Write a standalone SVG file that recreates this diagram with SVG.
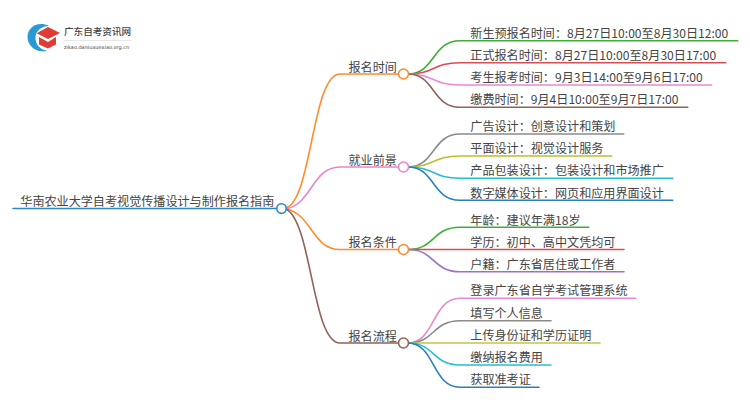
<svg xmlns="http://www.w3.org/2000/svg" width="750" height="410" viewBox="0 0 750 410">
<style>
text{font-family:"Noto Sans CJK SC","Noto Sans",sans-serif;font-size:12.100px;fill:#444}
.c path{fill:none;stroke-width:1.600;stroke-linecap:round}
circle{fill:#fff;stroke-width:1.600}
</style>
<rect width="750" height="410" fill="#fff"/>
<g id="logo">
<path d="M49 26C39 21 28.500 26 27.500 36C27 46 37 54 47 50.500C40 50 35 44 35.500 37C36 30.500 42 26 49 26Z" fill="#2a9ad6"/>
<path d="M36.700 33.300L48 27L60 33L48 39Z" fill="#e23b36"/>
<path d="M39 37L48 42L56 37V44.500L48 48.500L39 44.500Z" fill="#e23b36"/>
<text x="64" y="35" style="font-size:9.600px;font-weight:500">广东自考资讯网</text>
<rect x="63" y="40" width="68" height="0.700" fill="#ddd"/>
<text x="64" y="49" style="font-size:5px;font-family:'DejaVu Sans',sans-serif">zikao.daniuxuexiao.org.cn</text>
</g>
<g id="connectors" class="c">
<path d="M13 208.500H276" stroke="#2f86c5"/>
<path d="M286 208C312 200 312 74 340 74H398" stroke="#ff8c2a"/>
<path d="M286 209C312 204 312 167 340 167H398" stroke="#e884cf"/>
<path d="M286 209C312 214 312 249.500 340 249.500H398" stroke="#ff8c2a"/>
<path d="M286 209C312 222 312 343 340 343H398" stroke="#8f6357"/>
<path d="M408 74C435 74 432 40.700 460 40.700H737.700" stroke="#3cb034"/>
<path d="M408 74C435 74 432 62.700 460 62.700H725.700" stroke="#dd4c50"/>
<path d="M408 74C435 74 432 85 460 85H711.700" stroke="#e98ad0"/>
<path d="M408 74C435 74 432 107.300 460 107.300H687.700" stroke="#8f6357"/>
<path d="M408 167C435 167 432 134 460 134H623.700" stroke="#8a8a8a"/>
<path d="M408 167C435 167 432 156 460 156H611.700" stroke="#bdbe2e"/>
<path d="M408 167C435 167 432 178.300 460 178.300H672.700" stroke="#25bfd2"/>
<path d="M408 167C435 167 432 200.300 460 200.300H672.700" stroke="#2a7fbc"/>
<path d="M408 249.500C435 249.500 432 227.300 460 227.300H588.700" stroke="#3cb034"/>
<path d="M408 249.500H624" stroke="#dd4c50"/>
<path d="M408 249.500C435 249.500 432 271.700 460 271.700H624" stroke="#9a72c2"/>
<path d="M408 343C435 343 432 298.300 460 298.300H635.700" stroke="#e98ad0"/>
<path d="M408 343C435 343 432 320.700 460 320.700H551" stroke="#8a8a8a"/>
<path d="M408 343H600" stroke="#c4c54a"/>
<path d="M408 343C435 343 432 365 460 365H551" stroke="#25bfd2"/>
<path d="M408 343C435 343 432 387.300 460 387.300H539" stroke="#2a7fbc"/>
</g>
<g id="root"><text x="20.300" y="205.700">华南农业大学自考视觉传播设计与制作报名指南</text><circle cx="281.500" cy="208.500" r="4.700" stroke="#2f86c5"/></g>
<g id="n1"><text x="348.500" y="71.500">报名时间</text><circle cx="403.500" cy="74" r="5" stroke="#ff8c2a"/></g>
<g id="n2"><text x="348.500" y="164.500">就业前景</text><circle cx="403.500" cy="167" r="5" stroke="#e884cf"/></g>
<g id="n3"><text x="348.500" y="247">报名条件</text><circle cx="403.500" cy="249.500" r="5" stroke="#ff8c2a"/></g>
<g id="n4"><text x="348.500" y="340.500">报名流程</text><circle cx="403.500" cy="343" r="5" stroke="#8f6357"/></g>
<g id="l1"><text x="470.300" y="37.800">新生预报名时间：8月27日10:00至8月30日12:00</text></g>
<g id="l2"><text x="470.300" y="59.800">正式报名时间：8月27日10:00至8月30日17:00</text></g>
<g id="l3"><text x="470.300" y="82.200">考生报考时间：9月3日14:00至9月6日17:00</text></g>
<g id="l4"><text x="470.300" y="104.300">缴费时间：9月4日10:00至9月7日17:00</text></g>
<g id="l5"><text x="470.300" y="131.200">广告设计：创意设计和策划</text></g>
<g id="l6"><text x="470.300" y="153.200">平面设计：视觉设计服务</text></g>
<g id="l7"><text x="470.300" y="175.300">产品包装设计：包装设计和市场推广</text></g>
<g id="l8"><text x="470.300" y="197.700">数字媒体设计：网页和应用界面设计</text></g>
<g id="l9"><text x="470.300" y="224.500">年龄：建议年满18岁</text></g>
<g id="l10"><text x="470.300" y="246.700">学历：初中、高中文凭均可</text></g>
<g id="l11"><text x="470.300" y="268.800">户籍：广东省居住或工作者</text></g>
<g id="l12"><text x="470.300" y="295.200">登录广东省自学考试管理系统</text></g>
<g id="l13"><text x="470.300" y="317.700">填写个人信息</text></g>
<g id="l14"><text x="470.300" y="339.700">上传身份证和学历证明</text></g>
<g id="l15"><text x="470.300" y="362">缴纳报名费用</text></g>
<g id="l16"><text x="470.300" y="384.300">获取准考证</text></g>
</svg>
